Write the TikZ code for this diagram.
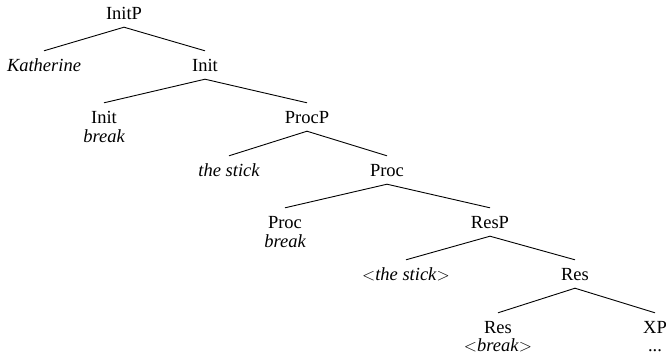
\documentclass[tikz,border=0pt]{standalone}
\usepackage{fontspec}
\setmainfont{Liberation Serif}
\begin{document}
\begin{tikzpicture}[x=1pt,y=-1pt,
  lab/.style={anchor=base,inner xsep=0pt,inner ysep=8pt,text height=12pt,text depth=0pt,
    font=\fontsize{18.5}{22}\selectfont},
  sub/.style={anchor=base,inner sep=0pt,font=\fontsize{18.5}{22}\selectfont\itshape},
  branch/.style={line width=0.9pt}]
\useasboundingbox (0,0) rectangle (666,360);

% level 0
\node[lab] (initp) at (124,19) {InitP};
% level 1
\node[lab] (kath) at (44,71) {\itshape Katherine};
\node[lab] (initbar) at (205,71) {Init};
% level 2
\node[lab] (init) at (104,123) {Init};
\node[sub] (initw) at (104,142) {break};
\node[lab] (procp) at (307,123) {ProcP};
% level 3
\node[lab] (stick) at (229,176) {\itshape the stick};
\node[lab] (procbar) at (387,176) {Proc};
% level 4
\node[lab] (proc) at (285,228) {Proc};
\node[sub] (procw) at (285,247) {break};
\node[lab] (resp) at (490,228) {ResP};
% level 5
\node[lab] (stickcopy) at (406,280) {$<$\textit{the stick}$>$};
\node[lab] (resbar) at (575,280) {Res};
% level 6
\node[lab] (res) at (498,333) {Res};
\node[sub] (resw) at (498,351) {\upshape$<$\textit{break}$>$};
\node[lab] (xp) at (655,333) {XP};
\node[sub] (xpw) at (655,351) {\upshape ...};

\draw[branch] (kath.north) -- (initp.south) -- (initbar.north);
\draw[branch] (init.north) -- (initbar.south) -- (procp.north);
\draw[branch] (stick.north) -- (procp.south) -- (procbar.north);
\draw[branch] (proc.north) -- (procbar.south) -- (resp.north);
\draw[branch] (stickcopy.north) -- (resp.south) -- (resbar.north);
\draw[branch] (res.north) -- (resbar.south) -- (xp.north);
\end{tikzpicture}
\end{document}
